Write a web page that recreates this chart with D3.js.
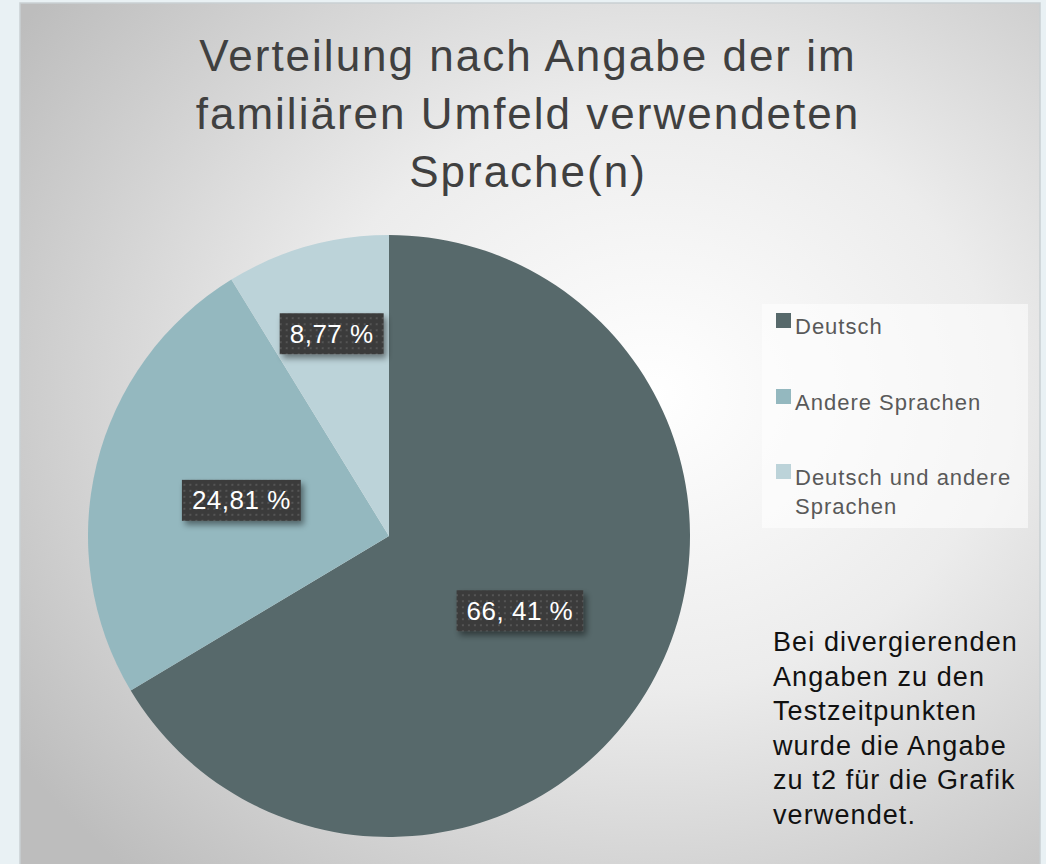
<!DOCTYPE html>
<html>
<head>
<meta charset="utf-8">
<script src="https://cdn.jsdelivr.net/npm/d3@7"></script>
<style>
  body { margin:0; background:#e9f1f4; }
  svg { display:block; font-family:"Liberation Sans", Arial, sans-serif; }
</style>
</head>
<body>
<svg id="chart" width="1046" height="864"></svg>
<script>
var categories = ["Deutsch", "Andere Sprachen", "Deutsch und andere Sprachen"];
var values = [66.41, 24.81, 8.77];
var labels = ["66, 41 %", "24,81 %", "8,77 %"];
var colors = ["#57696b", "#94b8bf", "#bcd3d9"];
var titleLines = ["Verteilung nach Angabe der im", "familiären Umfeld verwendeten", "Sprache(n)"];
var noteLines = ["Bei divergierenden", "Angaben zu den", "Testzeitpunkten", "wurde die Angabe", "zu t2 für die Grafik", "verwendet."];
var legendLines = [["Deutsch"], ["Andere Sprachen"], ["Deutsch und andere", "Sprachen"]];

var svg = d3.select("#chart");
var defs = svg.append("defs");

var bg = defs.append("radialGradient").attr("id", "bg")
  .attr("cx", "62%").attr("cy", "45%").attr("r", "75%");
bg.append("stop").attr("offset", "0%").attr("stop-color", "#ffffff");
bg.append("stop").attr("offset", "45%").attr("stop-color", "#ececec");
bg.append("stop").attr("offset", "100%").attr("stop-color", "#bdbdbd");

var dots = defs.append("pattern").attr("id", "dots")
  .attr("width", 6).attr("height", 6).attr("patternUnits", "userSpaceOnUse");
dots.append("rect").attr("width", 6).attr("height", 6).attr("fill", "#3b3b3b");
dots.append("rect").attr("x", 2).attr("y", 2).attr("width", 2).attr("height", 2).attr("fill", "#545454");

var shadow = defs.append("filter").attr("id", "shadow")
  .attr("x", "-20%").attr("y", "-20%").attr("width", "150%").attr("height", "160%");
shadow.append("feDropShadow").attr("dx", 3).attr("dy", 4).attr("stdDeviation", 3)
  .attr("flood-color", "#000").attr("flood-opacity", 0.45);

// panel
svg.append("rect").attr("x", 20).attr("y", 3).attr("width", 1020).attr("height", 870)
  .attr("fill", "url(#bg)").attr("stroke", "#c9cfd2").attr("stroke-width", 1.5);

// title
svg.append("g").selectAll("text").data(titleLines).enter().append("text")
  .attr("x", 528).attr("y", function(d, i){ return 71 + i * 58; })
  .attr("text-anchor", "middle").attr("font-size", 44).attr("letter-spacing", 2)
  .attr("fill", "#404040")
  .text(function(d){ return d; });

// pie
var cx = 389, cy = 536, radius = 301;
var pie = d3.pie().sort(null).value(function(d){ return d; });
var arc = d3.arc().innerRadius(0).outerRadius(radius);
var arcs = pie(values);

var g = svg.append("g").attr("transform", "translate(" + cx + "," + cy + ")");
g.selectAll("path").data(arcs).enter().append("path")
  .attr("d", arc).attr("fill", function(d, i){ return colors[i]; });

// data labels (radial distance as fraction of radius)
var labelR = [0.50, 0.505, 0.70];
var lab = g.selectAll(".lab").data(arcs).enter().append("g").attr("class", "lab")
  .attr("transform", function(d, i){
    var r = radius * labelR[i];
    var c = d3.arc().innerRadius(r).outerRadius(r).centroid(d);
    return "translate(" + c[0] + "," + c[1] + ")";
  });
lab.each(function(d, i){
  var sel = d3.select(this);
  var t = sel.append("text").attr("text-anchor", "middle").attr("dy", "0.36em")
    .attr("font-size", 26).attr("letter-spacing", 0.5).attr("fill", "#fff").text(labels[i]);
  var bb = t.node().getBBox();
  sel.insert("rect", "text")
    .attr("x", bb.x - 10).attr("y", -20).attr("width", bb.width + 20).attr("height", 41)
    .attr("fill", "url(#dots)").attr("filter", "url(#shadow)");
});

// legend
var leg = svg.append("g");
leg.append("rect").attr("x", 762).attr("y", 304).attr("width", 266).attr("height", 224)
  .attr("fill", "#ffffff").attr("fill-opacity", 0.55);
var legY = [327, 403, 478];
var items = leg.selectAll(".item").data(categories).enter().append("g").attr("class", "item");
items.append("rect").attr("x", 776).attr("y", function(d, i){ return legY[i] - 14; })
  .attr("width", 15).attr("height", 15).attr("fill", function(d, i){ return colors[i]; });
items.append("text").attr("font-size", 22).attr("letter-spacing", 1).attr("fill", "#595959")
  .each(function(d, i){
    d3.select(this).selectAll("tspan").data(legendLines[i]).enter().append("tspan")
      .attr("x", 795).attr("y", function(l, j){ return legY[i] + 7 + j * 29; })
      .text(function(l){ return l; });
  });

// note
svg.append("g").selectAll("text").data(noteLines).enter().append("text")
  .attr("x", 773).attr("y", function(d, i){ return 651 + i * 34.5; })
  .attr("font-size", 27).attr("letter-spacing", 1.1).attr("fill", "#111")
  .text(function(d){ return d; });
</script>
</body>
</html>
